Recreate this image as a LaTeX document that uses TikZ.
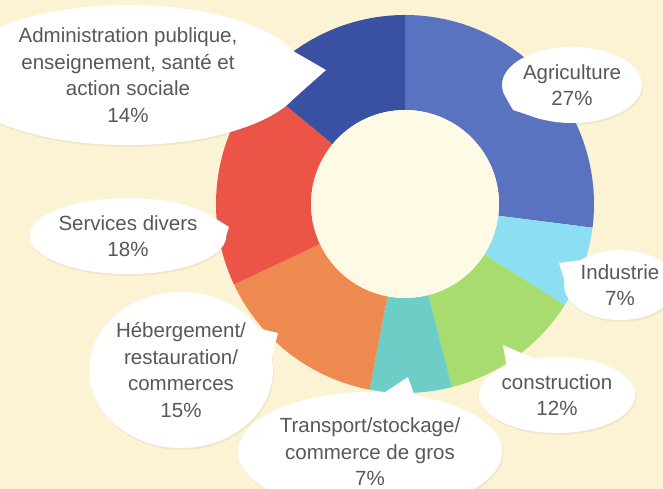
\documentclass[tikz,border=0pt]{standalone}
\usepackage{fontspec}
\setmainfont{Liberation Sans}
\usetikzlibrary{
	shapes.geometric,
	shadows,
}
\definecolor{bgcream}{RGB}{252,243,213}
\definecolor{holecream}{RGB}{255,250,229}
\definecolor{textgray}{RGB}{88,88,88}
\definecolor{agriblue}{RGB}{90,115,193}
\definecolor{adminblue}{RGB}{58,80,163}
\definecolor{induscyan}{RGB}{140,222,243}
\definecolor{constrgreen}{RGB}{168,220,110}
\definecolor{transteal}{RGB}{108,206,198}
\definecolor{hebergorange}{RGB}{238,138,80}
\definecolor{servred}{RGB}{235,84,70}
\tikzset{bubble/.style={
	ellipse,
	fill=white,
	inner sep=0mm,
	align=center,
	text=textgray,
	font=\fontsize{20.5}{26.5}\selectfont,
	drop shadow={opacity=0.10, shadow xshift=1pt, shadow yshift=-2pt},
}}
\tikzset{tail/.style={
	fill=white,
}}
\begin{document}
\begin{tikzpicture}[x=1pt, y=1pt]

% background
\fill[bgcream] (0,0) rectangle (663,489);
\clip (0,0) rectangle (663,489);

% donut
\newcommand{\donutpart}[3]{
\fill[#3, shift={(405,285)}] (#1:189pt)
arc[start angle=#1, end angle=#2, radius=189pt] -- (#2:94pt)
arc[start angle=#2, end angle=#1, radius=94pt] -- cycle;
}

\donutpart{90}{-7.2}{agriblue}
\donutpart{-7.2}{-32.4}{induscyan}
\donutpart{-32.4}{-75.6}{constrgreen}
\donutpart{-75.6}{-100.8}{transteal}
\donutpart{-100.8}{-154.8}{hebergorange}
\donutpart{-154.8}{-219.6}{servred}
\donutpart{-219.6}{-270}{adminblue}

\fill[holecream] (405,285) circle[radius=94pt];

% tips
\coordinate (admintip) at (326,419);
\coordinate (agritip) at (513,379);
\coordinate (servtip) at (229,262);
\coordinate (hebtip) at (278,156);
\coordinate (transtip) at (408,112);
\coordinate (industip) at (559,226);
\coordinate (constrtip) at (503,144);

% bubbles
\node[bubble, minimum width=352pt, minimum height=140pt](admin)	at (128,414)
	{Administration publique,\\enseignement, santé et\\action sociale\\14\%};
\node[bubble, minimum width=140pt, minimum height=76pt](agri)	at (572,404)
	{Agriculture\\27\%};
\node[bubble, minimum width=184pt, minimum height=76pt](serv)	at (128,253)
	{Services divers\\18\%};
\node[bubble, minimum width=172pt, minimum height=156pt](heb)	at (181,119)
	{Hébergement/\\restauration/\\commerces\\15\%};
\node[bubble, minimum width=264pt, minimum height=120pt](trans)	at (370,37)
	{Transport/stockage/\\commerce de gros\\7\%};
\node[bubble, minimum width=112pt, minimum height=70pt](indus)	at (620,204)
	{Industrie\\7\%};
\node[bubble, minimum width=156pt, minimum height=76pt](constr)	at (557,94)
	{construction\\12\%};

% tails
\fill[tail] (admin.-8) -- (admintip) -- (admin.8);
\fill[tail] (agri.192) -- (agritip) -- (agri.228);
\fill[tail] (serv.-6) -- (servtip) -- (serv.16);
\fill[tail] (heb.8) -- (hebtip) -- (heb.28);
\fill[tail] (trans.52) -- (transtip) -- (trans.76);
\fill[tail] (indus.148) -- (industip) -- (indus.175);
\fill[tail] (constr.122) -- (constrtip) -- (constr.150);

\end{tikzpicture}
\end{document}
